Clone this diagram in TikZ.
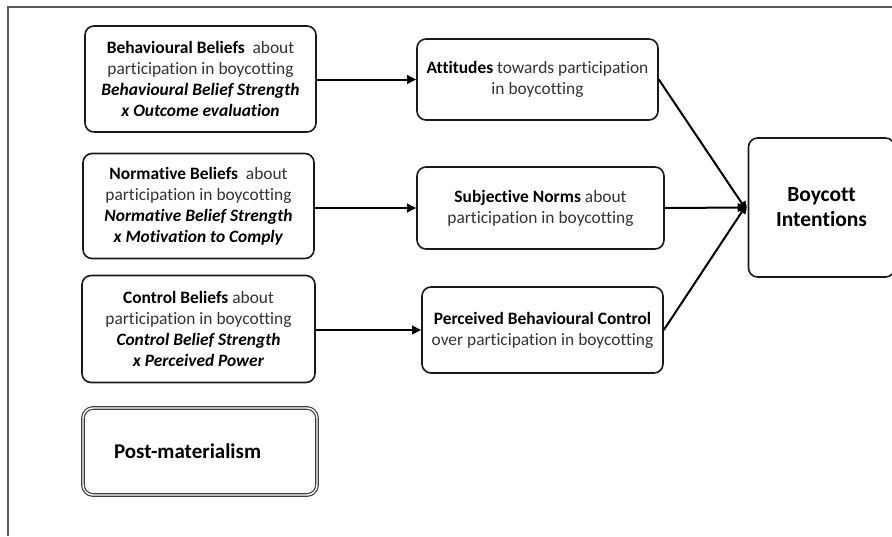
\documentclass[tikz,border=0pt]{standalone}
\usepackage{fontspec}
\setmainfont[Ligatures=NoCommon]{Carlito}
\usetikzlibrary{arrows.meta}
\definecolor{txtgray}{HTML}{333333}
\begin{document}
\begin{tikzpicture}[x=1pt,y=-1pt,
  box/.style={draw=black!90, line width=1.6pt, rounded corners=9pt, align=center, inner sep=1pt,
     font=\fontsize{17.4}{21}\selectfont, text=txtgray},
  dblbox/.style={draw=black!75, double=white, double distance=1.4pt, line width=1.2pt, rounded corners=10pt,
     font=\fontsize{21}{25}\selectfont\bfseries, text=black},
  arr/.style={line width=2pt, -{Triangle[length=9pt,width=8.5pt]}},
  frame/.style={draw=black!65, line width=1.6pt}]
\useasboundingbox (0,0) rectangle (892,536);
\fill[white] (0,0) rectangle (892,536);
\draw[frame] (8,536) -- (8,7) -- (893,7);

\node[box, minimum width=231pt, minimum height=106pt] (bb) at (200.5,79)
  {\textcolor{black}{\textbf{Behavioural Beliefs}}\ \ about\\participation in boycotting\\\textcolor{black}{\textbf{\textit{Behavioural Belief Strength}}}\\\textcolor{black}{\textbf{\textit{x Outcome evaluation}}}};
\node[box, minimum width=231pt, minimum height=105pt] (nb) at (198.5,206)
  {\textcolor{black}{\textbf{Normative Beliefs}}\ \ about\\participation in boycotting\\\textcolor{black}{\textbf{\textit{Normative Belief Strength}}}\\\textcolor{black}{\textbf{\textit{x Motivation to Comply}}}};
\node[box, minimum width=233pt, minimum height=107pt] (cb) at (198.5,329)
  {\textcolor{black}{\textbf{Control Beliefs}} about\\participation in boycotting\\\textcolor{black}{\textbf{\textit{Control Belief Strength}}}\\\textcolor{black}{\textbf{\textit{x Perceived Power}}}};
\node[dblbox, minimum width=234pt, minimum height=87pt, text width=210pt, align=left] (pm) at (200,451.5)
  {\hspace*{19pt}Post-materialism};

\node[box, minimum width=241pt, minimum height=81pt] (att) at (537.5,79.5)
  {\textcolor{black}{\textbf{Attitudes}} towards participation\\in boycotting};
\node[box, minimum width=247pt, minimum height=82pt] (sn) at (540.5,208)
  {\textcolor{black}{\textbf{Subjective Norms}} about\\participation in boycotting};
\node[box, minimum width=241pt, minimum height=86pt] (pbc) at (542.5,330)
  {\textcolor{black}{\textbf{Perceived Behavioural Control}}\\over participation in boycotting};
\node[box, minimum width=146pt, minimum height=139pt, font=\fontsize{21.5}{25}\selectfont\bfseries, text=black] (bi) at (821.5,207.5)
  {Boycott\\Intentions};

\draw[arr] (bb.east |- att.center) -- (att.west);
\draw[arr] (nb.east |- sn.center) -- (sn.west);
\draw[arr] (cb.east |- pbc.center) -- (pbc.west);

\coordinate (hit) at ([xshift=-1pt]bi.west);
\draw[arr] (att.east) -- ([yshift=-3pt]hit);
\draw[arr] (sn.east) -- (hit);
\draw[arr] (pbc.east) -- ([yshift=3pt]hit);
\end{tikzpicture}
\end{document}
